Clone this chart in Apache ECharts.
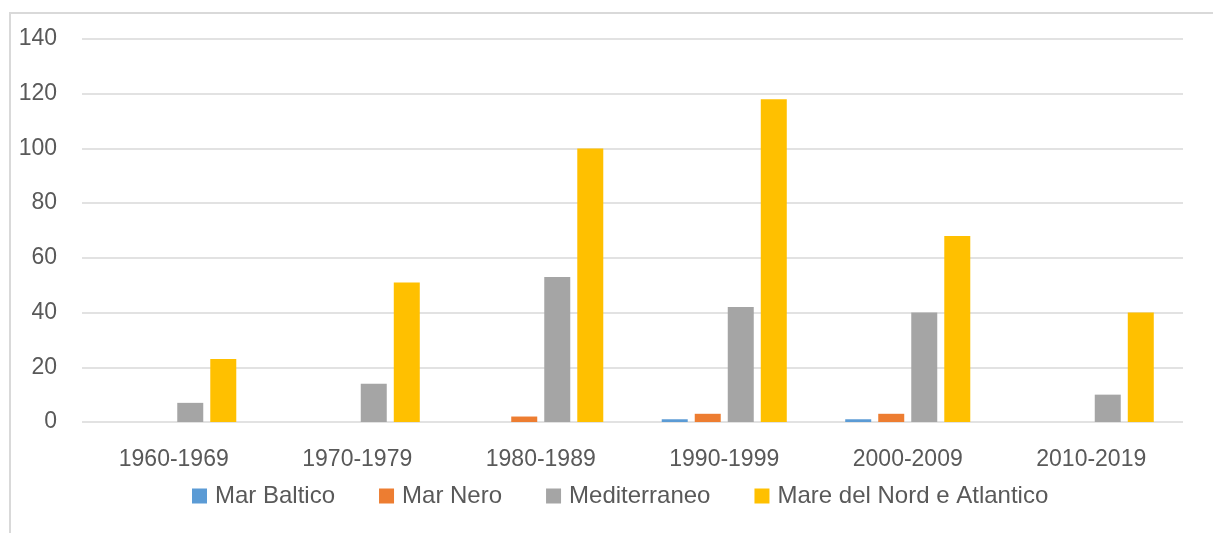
<!DOCTYPE html>
<html>
<head>
<meta charset="utf-8">
<script src="https://cdn.jsdelivr.net/npm/echarts@6/dist/echarts.min.js"></script>
<style>html,body{margin:0;padding:0;background:#fff;}#c{width:1213px;height:533px;}</style>
</head>
<body>
<div id="c"></div>
<script>
const categories = ['1960-1969','1970-1979','1980-1989','1990-1999','2000-2009','2010-2019'];
const seriesNames = ['Mar Baltico','Mar Nero','Mediterraneo','Mare del Nord e Atlantico'];
const marBaltico = [0, 0, 0, 1, 1, 0];
const marNero = [0, 0, 2, 3, 3, 0];
const mediterraneo = [7, 14, 53, 42, 40, 10];
const mareNord = [23, 51, 100, 118, 68, 40];
const yTicks = {min: 0, max: 140, interval: 20};
const colors = ['#5B9BD5','#ED7D31','#A5A5A5','#FFC000'];
const values = [marBaltico, marNero, mediterraneo, mareNord];

const font = 'Liberation Sans, Arial, sans-serif';
const chart = echarts.init(document.getElementById('c'));
chart.setOption({
  animation: false,
  color: colors,
  graphic: [{
    type: 'rect', silent: true,
    shape: {x: 10, y: 13, width: 1400, height: 700},
    style: {fill: 'none', stroke: '#d9d9d9', lineWidth: 2}
  }],
  grid: {left: 82, right: 30, top: 39, bottom: 111},
  legend: {
    data: seriesNames,
    bottom: 20,
    left: 187,
    itemWidth: 15, itemHeight: 15, itemGap: 44,
    icon: 'rect',
    textStyle: {fontFamily: font, fontSize: 24, color: '#595959', padding: [0,0,0,3]}
  },
  xAxis: {
    type: 'category', data: categories,
    axisLine: {show: false}, axisTick: {show: false},
    axisLabel: {fontFamily: font, fontSize: 23, color: '#595959', margin: 26}
  },
  yAxis: {
    type: 'value', min: yTicks.min, max: yTicks.max, interval: yTicks.interval,
    axisLine: {show: false}, axisTick: {show: false},
    axisLabel: {fontFamily: font, fontSize: 23, color: '#595959', margin: 25},
    splitLine: {lineStyle: {color: '#d9d9d9', width: 1.5}}
  },
  series: seriesNames.map((n, i) => ({
    name: n, type: 'bar', data: values[i],
    barWidth: 26, barGap: '27%'
  }))
});
</script>
</body>
</html>
